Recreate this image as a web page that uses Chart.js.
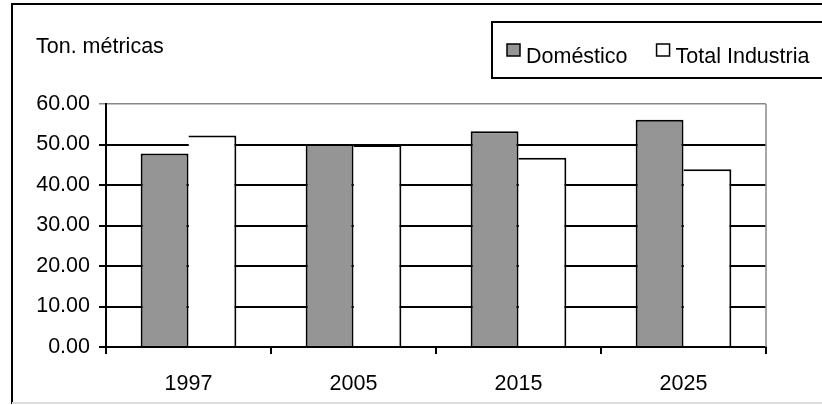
<!DOCTYPE html>
<html>
<head>
<meta charset="utf-8">
<script src="https://cdn.jsdelivr.net/npm/chart.js@4"></script>
<style>
  html, body { margin: 0; padding: 0; background: #fff; }
  canvas { display: block; }
</style>
</head>
<body>
<canvas id="chart" width="822" height="405"></canvas>
<script>
// Data
const categories = ['1997', '2005', '2015', '2025'];
const domestico = [47.8, 50.1, 53.3, 56.1];
const industria = [52.2, 49.9, 46.7, 43.9];
const yTicks = [0, 10, 20, 30, 40, 50, 60];
const unitLabel = 'Ton. métricas';

const FONT = '"Liberation Sans", Arial, sans-serif';
const FONT_SIZE = 21.5;

// Frame, title, legend box and gray right border of the plot
const decorations = {
    id: 'decorations',
    beforeDraw(chart) {
        const ctx = chart.ctx;
        ctx.save();
        ctx.fillStyle = '#fff';
        ctx.fillRect(0, 0, chart.width, chart.height);
        ctx.restore();
    },
    afterDraw(chart) {
        const ctx = chart.ctx;
        const area = chart.chartArea;
        ctx.save();

        // outer frame
        ctx.strokeStyle = '#000';
        ctx.lineWidth = 2;
        ctx.beginPath();
        ctx.moveTo(12, 404);
        ctx.lineTo(12, 4);
        ctx.lineTo(chart.width + 2, 4);
        ctx.stroke();
        ctx.strokeStyle = '#ddd';
        ctx.beginPath();
        ctx.moveTo(12, 403);
        ctx.lineTo(chart.width, 403);
        ctx.stroke();

        // right border of plot area
        ctx.strokeStyle = '#888';
        ctx.lineWidth = 1.5;
        ctx.beginPath();
        ctx.moveTo(area.right, area.top);
        ctx.lineTo(area.right, area.bottom);
        ctx.stroke();

        // unit label
        ctx.fillStyle = '#000';
        ctx.font = FONT_SIZE + 'px ' + FONT;
        ctx.textBaseline = 'alphabetic';
        ctx.textAlign = 'left';
        ctx.fillText(unitLabel, 36, 53);

        // legend box
        ctx.lineWidth = 2;
        ctx.strokeStyle = '#000';
        ctx.strokeRect(492, 22, 340, 56);
        let x = 507;
        chart.data.datasets.forEach(ds => {
            ctx.fillStyle = ds.backgroundColor;
            ctx.fillRect(x, 44, 13, 12);
            ctx.lineWidth = 1.5;
            ctx.strokeRect(x, 44, 13, 12);
            ctx.fillStyle = '#000';
            ctx.fillText(ds.label, x + 19, 63);
            x += 19 + ctx.measureText(ds.label).width + 29;
        });

        ctx.restore();
    }
};

new Chart(document.getElementById('chart'), {
    type: 'bar',
    data: {
        labels: categories,
        datasets: [
            {
                label: 'Doméstico',
                data: domestico,
                backgroundColor: '#959595',
                borderColor: '#000',
                borderWidth: { left: 2, top: 2, right: 2, bottom: 0 },
                borderSkipped: false
            },
            {
                label: 'Total Industria',
                data: industria,
                backgroundColor: '#ffffff',
                borderColor: '#000',
                borderWidth: { left: 0, top: 2, right: 2, bottom: 0 },
                borderSkipped: false
            }
        ]
    },
    options: {
        responsive: false,
        animation: false,
        events: [],
        layout: { padding: { left: 0, top: 104, right: 56, bottom: 0 } },
        datasets: {
            bar: { categoryPercentage: 0.58, barPercentage: 1.0 }
        },
        plugins: {
            legend: { display: false },
            tooltip: { enabled: false }
        },
        scales: {
            x: {
                offset: true,
                grid: {
                    offset: true,
                    drawOnChartArea: false,
                    tickLength: 7,
                    color: '#000',
                    lineWidth: 2
                },
                border: { color: '#000', width: 2 },
                ticks: {
                    color: '#000',
                    font: { family: FONT, size: FONT_SIZE },
                    padding: 17
                },
                afterFit(scale) { scale.height = 58; }
            },
            y: {
                min: yTicks[0],
                max: yTicks[yTicks.length - 1],
                afterBuildTicks(scale) {
                    scale.ticks = yTicks.map(v => ({ value: v }));
                },
                grid: {
                    color: c => (c.tick && c.tick.value === 60) ? '#888' : '#000',
                    lineWidth: c => (c.tick && c.tick.value === 60) ? 1.5 : 2,
                    tickLength: 7
                },
                border: { color: '#000', width: 2 },
                ticks: {
                    color: '#000',
                    font: { family: FONT, size: FONT_SIZE },
                    padding: 9,
                    callback: v => v.toFixed(2)
                },
                afterFit(scale) { scale.width = 106; }
            }
        }
    },
    plugins: [decorations]
});
</script>
</body>
</html>
